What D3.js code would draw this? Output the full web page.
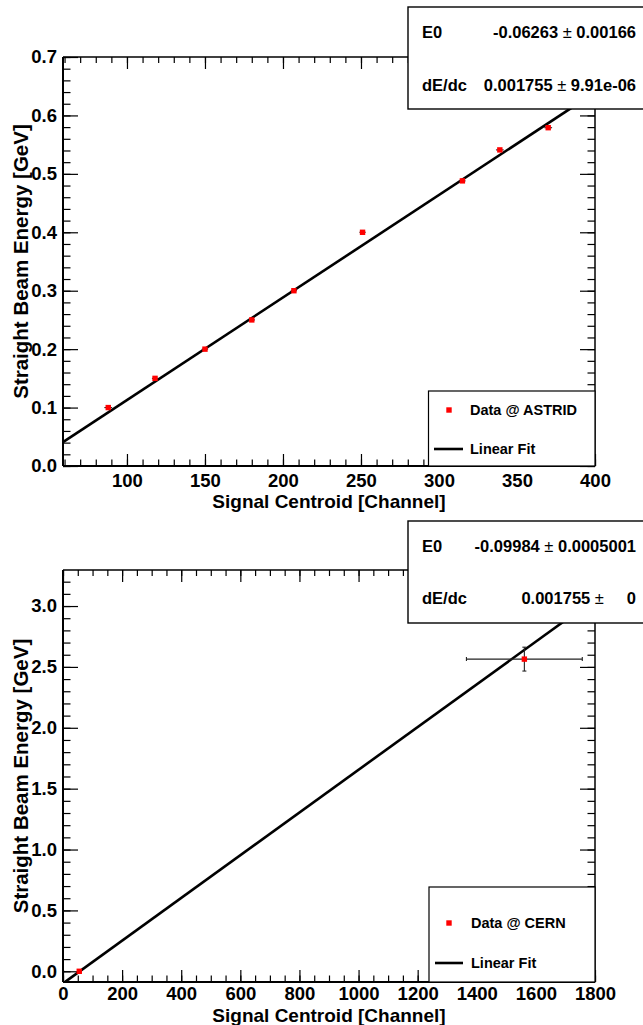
<!DOCTYPE html>
<html>
<head>
<meta charset="utf-8">
<script src="https://cdn.jsdelivr.net/npm/d3@7"></script>
<style>
  html, body { margin: 0; padding: 0; background: #fff; }
  svg { display: block; font-family: "Liberation Sans", Arial, Helvetica, sans-serif; font-weight: bold; }
</style>
</head>
<body>
<svg id="chart" width="643" height="1025"></svg>
<script>
// ---------- data ----------
// Top panel (ASTRID)
const astridChannel = [88, 118, 150, 180, 207, 251, 315, 339, 370];
const astridEnergy  = [0.100, 0.150, 0.200, 0.250, 0.300, 0.400, 0.488, 0.541, 0.579];
const astridChErr   = [2.5, 2, 2, 2, 2, 2, 2, 2.5, 2.5];
const astridEnErr   = [0.003, 0.002, 0.002, 0.002, 0.002, 0.002, 0.002, 0.003, 0.003];
const astridXTicks  = [100, 150, 200, 250, 300, 350, 400];
const astridYTicks  = [0.0, 0.1, 0.2, 0.3, 0.4, 0.5, 0.6, 0.7];
const astridFitE0   = -0.06263;
const astridFitSlope = 0.001755;
const astridStatNames  = ["E0", "dE/dc"];
const astridStatValues = ["-0.06263", "0.001755"];
const astridStatErrors = ["0.00166", "9.91e-06"];
const astridLegend = ["Data @ ASTRID", "Linear Fit"];

// Bottom panel (CERN)
const cernChannel = [55, 1561];
const cernEnergy  = [0.0, 2.564];
const cernChErr   = [0, 196];
const cernEnErr   = [0, 0.098];
const cernXTicks  = [0, 200, 400, 600, 800, 1000, 1200, 1400, 1600, 1800];
const cernYTicks  = [0.0, 0.5, 1.0, 1.5, 2.0, 2.5, 3.0];
const cernFitE0   = -0.09984;
const cernFitSlope = 0.001755;
const cernStatNames  = ["E0", "dE/dc"];
const cernStatValues = ["-0.09984", "0.001755"];
const cernStatErrors = ["0.0005001", "    0"];
const cernLegend = ["Data @ CERN", "Linear Fit"];

const xTitle = "Signal Centroid [Channel]";
const yTitle = "Straight Beam Energy [GeV]";

// ---------- drawing ----------
const svg = d3.select("#chart");

function range(a, b, step) {
  const out = [];
  for (let v = a; v <= b + step * 1e-6; v += step) out.push(+v.toFixed(6));
  return out;
}

function panel(cfg, idx) {
  const { left, right, top, bottom } = cfg.frame;
  const x = d3.scaleLinear().domain(cfg.xDomain).range([left, right]);
  const y = d3.scaleLinear().domain(cfg.yDomain).range([bottom, top]);
  const g = svg.append("g");

  const clipId = "clip" + idx;
  svg.append("clipPath").attr("id", clipId)
    .append("rect").attr("x", left).attr("y", top)
    .attr("width", right - left).attr("height", bottom - top);

  const xMinor = range(cfg.xMinorStart, cfg.xDomain[1], cfg.xMinorStep).filter(v => v >= cfg.xDomain[0]);
  const yMinor = range(cfg.yMinorStart, cfg.yDomain[1], cfg.yMinorStep).filter(v => v >= cfg.yDomain[0]);

  const fmtY = d3.format(".1f");

  // bottom axis (major, labelled)
  const axB = g.append("g").attr("transform", `translate(0,${bottom})`)
    .call(d3.axisBottom(x).tickValues(cfg.xTicks).tickSizeInner(-12).tickSizeOuter(0).tickPadding(cfg.xPad).tickFormat(d3.format("d")));
  axB.append("g").call(d3.axisBottom(x).tickValues(xMinor).tickSizeInner(-6.5).tickSizeOuter(0).tickFormat(""));
  // top mirrored ticks
  const axT = g.append("g").attr("transform", `translate(0,${top})`)
    .call(d3.axisTop(x).tickValues(cfg.xTicks).tickSizeInner(-12).tickSizeOuter(0).tickFormat(""));
  axT.append("g").call(d3.axisTop(x).tickValues(xMinor).tickSizeInner(-6).tickSizeOuter(0).tickFormat(""));
  // left axis
  const axL = g.append("g").attr("transform", `translate(${left},0)`)
    .call(d3.axisLeft(y).tickValues(cfg.yTicks).tickSizeInner(-15).tickSizeOuter(0).tickPadding(6).tickFormat(fmtY));
  axL.append("g").call(d3.axisLeft(y).tickValues(yMinor).tickSizeInner(-7.5).tickSizeOuter(0).tickFormat(""));
  // right mirrored
  const axR = g.append("g").attr("transform", `translate(${right},0)`)
    .call(d3.axisRight(y).tickValues(cfg.yTicks).tickSizeInner(-15).tickSizeOuter(0).tickFormat(""));
  axR.append("g").call(d3.axisRight(y).tickValues(yMinor).tickSizeInner(-7.5).tickSizeOuter(0).tickFormat(""));

  g.selectAll(".domain").remove();
  g.selectAll(".tick line").attr("stroke", "#000").attr("stroke-width", 1.2);
  g.selectAll(".tick text").attr("fill", "#000")
    .style("font-size", "18.5px").style("font-weight", "bold")
    .style("font-family", '"Liberation Sans", Arial, sans-serif');

  // frame
  g.append("line").attr("x1", left).attr("x2", right).attr("y1", top).attr("y2", top).attr("stroke", "#000").attr("stroke-width", 1.5);
  g.append("line").attr("x1", right).attr("x2", right).attr("y1", top).attr("y2", bottom).attr("stroke", "#000").attr("stroke-width", 1.5);
  g.append("line").attr("x1", left).attr("x2", right).attr("y1", bottom).attr("y2", bottom).attr("stroke", "#000").attr("stroke-width", 2);
  g.append("line").attr("x1", left).attr("x2", left).attr("y1", top).attr("y2", bottom).attr("stroke", "#000").attr("stroke-width", 2);

  // axis titles
  g.append("text").attr("x", (left + right) / 2).attr("y", cfg.xTitleY)
    .attr("text-anchor", "middle").style("font-size", "19px").text(xTitle);
  g.append("text").attr("transform", `translate(${cfg.yTitleX},${(top + bottom) / 2}) rotate(-90)`)
    .attr("text-anchor", "middle").style("font-size", "20.5px").text(yTitle);

  // fit line
  const fit = d3.line().x(d => x(d)).y(d => y(cfg.fitE0 + cfg.fitSlope * d));
  g.append("path").attr("clip-path", `url(#${clipId})`)
    .attr("d", fit(cfg.xDomain)).attr("fill", "none").attr("stroke", "#000").attr("stroke-width", 2.6);

  // error bars
  const pts = cfg.xs.map((v, i) => ({ x: v, y: cfg.ys[i], ex: cfg.exs[i], ey: cfg.eys[i] }));
  const eg = g.append("g").attr("clip-path", `url(#${clipId})`).attr("stroke", "#222").attr("stroke-width", 1.1);
  pts.forEach(p => {
    if (p.ex > 0) {
      eg.append("line").attr("x1", x(p.x - p.ex)).attr("x2", x(p.x + p.ex)).attr("y1", y(p.y)).attr("y2", y(p.y));
      if (cfg.caps) {
        eg.append("line").attr("x1", x(p.x - p.ex)).attr("x2", x(p.x - p.ex)).attr("y1", y(p.y) - 2).attr("y2", y(p.y) + 2);
        eg.append("line").attr("x1", x(p.x + p.ex)).attr("x2", x(p.x + p.ex)).attr("y1", y(p.y) - 2).attr("y2", y(p.y) + 2);
      }
    }
    if (p.ey > 0) {
      eg.append("line").attr("x1", x(p.x)).attr("x2", x(p.x)).attr("y1", y(p.y - p.ey)).attr("y2", y(p.y + p.ey));
      if (cfg.caps) {
        eg.append("line").attr("x1", x(p.x) - 2).attr("x2", x(p.x) + 2).attr("y1", y(p.y - p.ey)).attr("y2", y(p.y - p.ey));
        eg.append("line").attr("x1", x(p.x) - 2).attr("x2", x(p.x) + 2).attr("y1", y(p.y + p.ey)).attr("y2", y(p.y + p.ey));
      }
    }
  });
  // markers
  g.append("g").selectAll("rect").data(pts).join("rect")
    .attr("x", d => x(d.x) - 2.7).attr("y", d => y(d.y) - 2.7)
    .attr("width", 5.4).attr("height", 5.4).attr("fill", "#ff0000");

  // legend
  const L = cfg.legend;
  g.append("rect").attr("x", L.x).attr("y", L.y).attr("width", L.w).attr("height", L.h)
    .attr("fill", "#fff").attr("stroke", "#000").attr("stroke-width", 1.2);
  g.append("rect").attr("x", L.markX - 2.7).attr("y", L.rows[0] - 2.7).attr("width", 5.4).attr("height", 5.4).attr("fill", "#ff0000");
  g.append("line").attr("x1", L.lineX1).attr("x2", L.lineX2).attr("y1", L.rows[1]).attr("y2", L.rows[1])
    .attr("stroke", "#000").attr("stroke-width", 2.6);
  cfg.legendLabels.forEach((t, i) => {
    g.append("text").attr("x", L.textX).attr("y", L.rows[i]).attr("dy", "0.36em")
      .style("font-size", "14.5px").text(t);
  });

  // stats box
  const S = cfg.stats;
  g.append("rect").attr("x", S.x).attr("y", S.y).attr("width", S.w).attr("height", S.h)
    .attr("fill", "#fff").attr("stroke", "#000").attr("stroke-width", 1.4);
  cfg.statNames.forEach((n, i) => {
    const by = S.y + S.rowOffsets[i];
    g.append("text").attr("x", S.nameX).attr("y", by).style("font-size", "16.5px").text(n);
    const t = g.append("text").attr("x", S.valueRight).attr("y", by).attr("text-anchor", "end")
      .style("font-size", "16.5px").style("white-space", "pre");
    t.append("tspan").text(cfg.statValues[i] + " ");
    t.append("tspan").style("font-weight", "normal").text("\u00b1");
    t.append("tspan").text(" " + cfg.statErrors[i]);
  });
}

panel({
  frame: { left: 63, right: 595, top: 57, bottom: 466 },
  xDomain: [59, 400], yDomain: [0, 0.7],
  xTicks: astridXTicks, yTicks: astridYTicks,
  xMinorStart: 60, xMinorStep: 10, yMinorStart: 0, yMinorStep: 0.02,
  xs: astridChannel, ys: astridEnergy, exs: astridChErr, eys: astridEnErr, caps: false,
  fitE0: astridFitE0, fitSlope: astridFitSlope,
  xPad: 8, xTitleY: 508, yTitleX: 28,
  legend: { x: 428.5, y: 391, w: 166.5, h: 75, markX: 449, lineX1: 434, lineX2: 463, textX: 470, rows: [410, 449] },
  legendLabels: astridLegend,
  stats: { x: 408, y: 7, w: 260, h: 102, nameX: 422, valueRight: 636, rowOffsets: [31, 84] },
  statNames: astridStatNames, statValues: astridStatValues, statErrors: astridStatErrors
}, 0);

panel({
  frame: { left: 63, right: 595, top: 570, bottom: 982 },
  xDomain: [0, 1800], yDomain: [-0.088, 3.296],
  xTicks: cernXTicks, yTicks: cernYTicks,
  xMinorStart: 0, xMinorStep: 50, yMinorStart: 0, yMinorStep: 0.1,
  xs: cernChannel, ys: cernEnergy, exs: cernChErr, eys: cernEnErr, caps: true,
  fitE0: cernFitE0, fitSlope: cernFitSlope,
  xPad: 5, xTitleY: 1022, yTitleX: 28,
  legend: { x: 429, y: 887, w: 166, h: 95, markX: 449, lineX1: 435, lineX2: 463, textX: 471, rows: [923, 963] },
  legendLabels: cernLegend,
  stats: { x: 408, y: 521, w: 260, h: 102, nameX: 422, valueRight: 636, rowOffsets: [31, 83] },
  statNames: cernStatNames, statValues: cernStatValues, statErrors: cernStatErrors
}, 1);
</script>
</body>
</html>
